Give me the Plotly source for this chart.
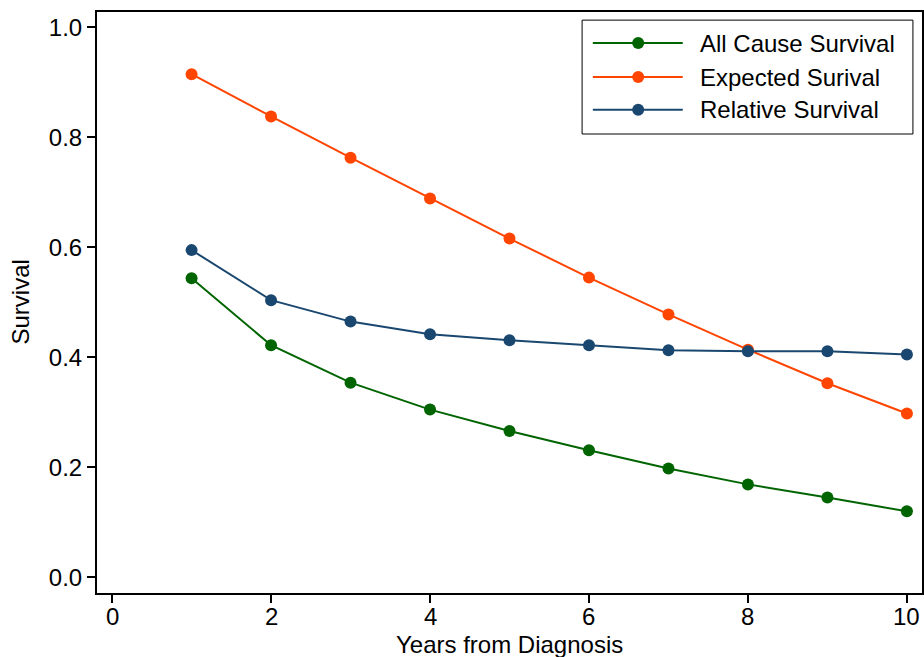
import plotly.graph_objects as go

years = [1, 2, 3, 4, 5, 6, 7, 8, 9, 10]
all_cause = [0.544, 0.422, 0.354, 0.305, 0.266, 0.231, 0.198, 0.169, 0.145, 0.120]
expected = [0.915, 0.838, 0.763, 0.689, 0.616, 0.545, 0.478, 0.414, 0.353, 0.298]
relative = [0.595, 0.504, 0.465, 0.442, 0.431, 0.422, 0.413, 0.411, 0.411, 0.405]

series = [
    ("All Cause Survival", all_cause, "#006400"),
    ("Expected Surival", expected, "#FF4500"),
    ("Relative Survival", relative, "#1A476F"),
]
x_ticks = [0, 2, 4, 6, 8, 10]
y_ticks = [0, 0.2, 0.4, 0.6, 0.8, 1.0]
x_title = "Years from Diagnosis"
y_title = "Survival"

font = "Liberation Sans, Arial, sans-serif"
fig = go.Figure()
shapes = []
annotations = []

# custom legend layout (paper coords)
leg_x0, leg_x1, leg_y0, leg_y1 = 0.588, 0.989, 0.790, 0.986
line_x0, line_x1, mark_x, text_x = 0.601, 0.710, 0.656, 0.7285
row_y = [0.9466, 0.888, 0.8317]

shapes.append(dict(type="rect", xref="paper", yref="paper",
                   x0=leg_x0, x1=leg_x1, y0=leg_y0, y1=leg_y1,
                   line=dict(color="black", width=1), fillcolor="white", layer="above"))

for (name, vals, col), ry in zip(series, row_y):
    fig.add_trace(go.Scatter(
        x=years, y=vals, name=name, mode="lines+markers",
        line=dict(color=col, width=2),
        marker=dict(color=col, size=12),
        showlegend=False,
    ))
    shapes.append(dict(type="line", xref="paper", yref="paper",
                       x0=line_x0, x1=line_x1, y0=ry, y1=ry,
                       line=dict(color=col, width=2), layer="above"))
    shapes.append(dict(type="circle", xref="paper", yref="paper",
                       xsizemode="pixel", ysizemode="pixel",
                       xanchor=mark_x, yanchor=ry,
                       x0=-6, x1=6, y0=-6, y1=6,
                       line=dict(color=col, width=0), fillcolor=col, layer="above"))
    annotations.append(dict(xref="paper", yref="paper", x=text_x, y=ry,
                            xanchor="left", yanchor="middle", showarrow=False,
                            text=name, font=dict(size=24, color="black", family=font)))

# x tick labels placed on the x scale
for t in x_ticks:
    annotations.append(dict(xref="x", yref="paper", x=t, y=-0.0406,
                            xanchor="center", yanchor="middle", showarrow=False,
                            text=str(t), font=dict(size=24, color="black", family=font)))

# axis titles
annotations.append(dict(xref="paper", yref="paper", x=0.5, y=-0.0883,
                        xanchor="center", yanchor="middle", showarrow=False,
                        text=x_title, font=dict(size=24, color="black", family=font)))
annotations.append(dict(xref="paper", yref="paper", x=-0.0933, y=0.5,
                        xanchor="center", yanchor="middle", showarrow=False,
                        textangle=-90,
                        text=y_title, font=dict(size=24, color="black", family=font)))

fig.update_layout(
    width=924, height=657,
    margin=dict(l=97, r=2, t=12, b=64),
    paper_bgcolor="white", plot_bgcolor="white",
    font=dict(family=font, size=24, color="black"),
    showlegend=False,
    shapes=shapes, annotations=annotations,
    xaxis=dict(
        range=[-0.19, 10.19], tickvals=x_ticks, showticklabels=False,
        showgrid=False, zeroline=False, automargin=False,
        showline=True, linecolor="black", linewidth=2, mirror=True,
        ticks="outside", ticklen=8, tickwidth=2, tickcolor="black",
    ),
    yaxis=dict(
        range=[-0.0285, 1.028], tickvals=y_ticks,
        tickformat=".1f",
        showgrid=False, zeroline=False, automargin=False,
        showline=True, linecolor="black", linewidth=2, mirror=True,
        ticks="outside", ticklen=8, tickwidth=2, tickcolor="black",
    ),
)

fig.write_html("out.html")
